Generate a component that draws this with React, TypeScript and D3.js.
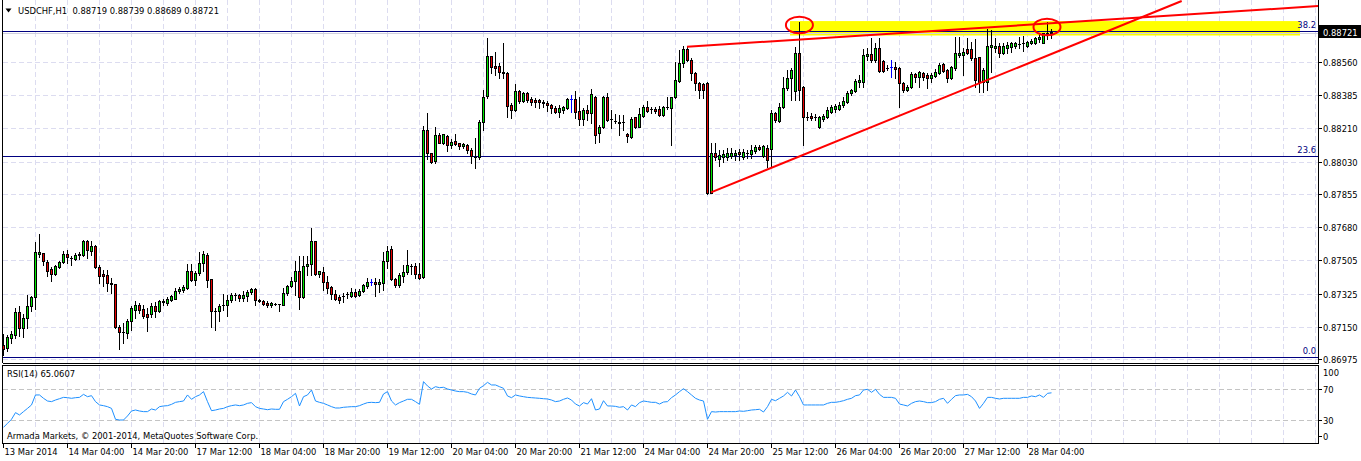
import React from "react";
import * as d3 from "d3";

// ---------------- data ----------------
const SYMBOL = "USDCHF,H1";
const TIME_LABELS = [
  "13 Mar 2014", "14 Mar 04:00", "14 Mar 20:00", "17 Mar 12:00", "18 Mar 04:00", "18 Mar 20:00",
  "19 Mar 12:00", "20 Mar 04:00", "20 Mar 20:00", "21 Mar 12:00", "24 Mar 04:00", "24 Mar 20:00",
  "25 Mar 12:00", "26 Mar 04:00", "26 Mar 20:00", "27 Mar 12:00", "28 Mar 04:00",
];
const PRICE_TICKS = [0.8856, 0.88385, 0.8821, 0.8803, 0.87855, 0.8768, 0.87505, 0.87325, 0.8715, 0.86975];
const RSI_TICKS = [100, 70, 30, 0];
const RSI_LEVELS = [70, 30];
const FIB_LABELS = ["38.2", "23.6", "0.0"];
const FIB_PRICES = [0.88727, 0.8806, 0.86987];
const BLUE_BARS = [92, 142, 222];

// [open, high, low, close] per H1 bar
const OHLC: number[][] = [
  [0.87051,0.87110,0.86998,0.87030],[0.87035,0.87105,0.87019,0.87094],[0.87089,0.87126,0.87062,0.87110],[0.87105,0.87249,0.87089,0.87227],[0.87227,0.87259,0.87099,0.87142],
  [0.87142,0.87217,0.87094,0.87195],[0.87195,0.87318,0.87142,0.87259],[0.87259,0.87313,0.87233,0.87308],[0.87308,0.87601,0.87243,0.87548],[0.87537,0.87644,0.87521,0.87548],
  [0.87542,0.87542,0.87478,0.87500],[0.87494,0.87505,0.87420,0.87446],[0.87457,0.87468,0.87393,0.87430],[0.87430,0.87478,0.87425,0.87473],[0.87468,0.87500,0.87462,0.87494],
  [0.87494,0.87553,0.87489,0.87537],[0.87537,0.87558,0.87489,0.87521],[0.87516,0.87526,0.87478,0.87516],[0.87510,0.87542,0.87505,0.87532],[0.87532,0.87548,0.87510,0.87537],
  [0.87532,0.87612,0.87526,0.87606],[0.87606,0.87612,0.87516,0.87558],[0.87553,0.87606,0.87532,0.87580],[0.87580,0.87585,0.87462,0.87468],[0.87468,0.87478,0.87382,0.87420],
  [0.87430,0.87452,0.87366,0.87420],[0.87425,0.87452,0.87340,0.87382],[0.87382,0.87409,0.87329,0.87377],[0.87377,0.87377,0.87142,0.87147],[0.87147,0.87158,0.87030,0.87121],
  [0.87121,0.87169,0.87062,0.87121],[0.87115,0.87190,0.87089,0.87179],[0.87179,0.87259,0.87131,0.87249],[0.87238,0.87286,0.87195,0.87265],[0.87265,0.87275,0.87222,0.87238],
  [0.87243,0.87265,0.87195,0.87206],[0.87217,0.87249,0.87126,0.87201],[0.87217,0.87275,0.87201,0.87259],[0.87259,0.87281,0.87201,0.87233],[0.87233,0.87291,0.87227,0.87286],
  [0.87281,0.87297,0.87265,0.87286],[0.87275,0.87308,0.87265,0.87297],[0.87291,0.87318,0.87286,0.87313],[0.87297,0.87356,0.87297,0.87340],[0.87340,0.87361,0.87329,0.87350],
  [0.87345,0.87372,0.87334,0.87361],[0.87356,0.87484,0.87350,0.87446],[0.87446,0.87484,0.87393,0.87398],[0.87398,0.87446,0.87372,0.87436],[0.87436,0.87548,0.87425,0.87489],
  [0.87489,0.87553,0.87446,0.87537],[0.87532,0.87542,0.87361,0.87398],[0.87404,0.87404,0.87147,0.87233],[0.87233,0.87249,0.87131,0.87233],[0.87233,0.87270,0.87179,0.87259],
  [0.87265,0.87324,0.87238,0.87265],[0.87265,0.87318,0.87206,0.87291],[0.87291,0.87329,0.87281,0.87318],[0.87318,0.87329,0.87291,0.87318],[0.87318,0.87324,0.87286,0.87302],
  [0.87302,0.87340,0.87286,0.87318],[0.87313,0.87345,0.87286,0.87334],[0.87334,0.87356,0.87324,0.87350],[0.87350,0.87356,0.87265,0.87291],[0.87291,0.87297,0.87281,0.87286],
  [0.87286,0.87291,0.87265,0.87270],[0.87275,0.87286,0.87254,0.87265],[0.87265,0.87281,0.87254,0.87275],[0.87270,0.87275,0.87265,0.87270],[0.87270,0.87270,0.87233,0.87270],
  [0.87265,0.87356,0.87265,0.87329],[0.87329,0.87372,0.87318,0.87366],[0.87366,0.87414,0.87361,0.87393],[0.87393,0.87500,0.87318,0.87446],[0.87446,0.87526,0.87243,0.87308],
  [0.87308,0.87526,0.87302,0.87473],[0.87473,0.87526,0.87425,0.87484],[0.87484,0.87676,0.87425,0.87606],[0.87606,0.87606,0.87425,0.87430],[0.87430,0.87446,0.87414,0.87446],
  [0.87441,0.87468,0.87345,0.87388],[0.87388,0.87420,0.87329,0.87356],[0.87361,0.87366,0.87297,0.87324],[0.87324,0.87345,0.87291,0.87297],[0.87308,0.87318,0.87275,0.87291],
  [0.87313,0.87329,0.87281,0.87313],[0.87324,0.87334,0.87302,0.87324],[0.87313,0.87356,0.87308,0.87334],[0.87334,0.87350,0.87308,0.87313],[0.87318,0.87350,0.87313,0.87340],
  [0.87340,0.87377,0.87334,0.87372],[0.87366,0.87409,0.87356,0.87388],[0.87388,0.87404,0.87372,0.87388],[0.87388,0.87409,0.87313,0.87377],[0.87377,0.87404,0.87334,0.87388],
  [0.87382,0.87548,0.87345,0.87500],[0.87500,0.87580,0.87462,0.87553],[0.87564,0.87580,0.87398,0.87404],[0.87404,0.87409,0.87361,0.87372],[0.87372,0.87436,0.87361,0.87425],
  [0.87420,0.87478,0.87388,0.87441],[0.87441,0.87558,0.87430,0.87478],[0.87473,0.87484,0.87430,0.87473],[0.87473,0.87489,0.87409,0.87430],[0.87430,0.87489,0.87404,0.87409],
  [0.87414,0.88220,0.87409,0.88199],[0.88199,0.88289,0.88044,0.88076],[0.88076,0.88076,0.88023,0.88028],[0.88033,0.88215,0.88023,0.88172],[0.88172,0.88183,0.88129,0.88129],
  [0.88129,0.88177,0.88124,0.88177],[0.88167,0.88172,0.88087,0.88119],[0.88119,0.88151,0.88103,0.88135],[0.88140,0.88177,0.88119,0.88124],[0.88129,0.88129,0.88097,0.88113],
  [0.88113,0.88129,0.88103,0.88124],[0.88119,0.88124,0.88076,0.88092],[0.88092,0.88103,0.88023,0.88060],[0.88055,0.88156,0.87996,0.88055],[0.88055,0.88252,0.88044,0.88241],
  [0.88241,0.88412,0.88199,0.88375],[0.88380,0.88690,0.88370,0.88594],[0.88594,0.88594,0.88503,0.88535],[0.88540,0.88615,0.88492,0.88530],[0.88540,0.88556,0.88476,0.88508],
  [0.88508,0.88663,0.88476,0.88503],[0.88503,0.88508,0.88268,0.88327],[0.88332,0.88343,0.88263,0.88305],[0.88305,0.88444,0.88300,0.88407],[0.88407,0.88412,0.88343,0.88354],
  [0.88354,0.88402,0.88348,0.88396],[0.88396,0.88402,0.88348,0.88359],[0.88364,0.88375,0.88332,0.88348],[0.88359,0.88370,0.88322,0.88348],[0.88359,0.88364,0.88316,0.88348],
  [0.88348,0.88359,0.88322,0.88343],[0.88343,0.88354,0.88300,0.88332],[0.88332,0.88338,0.88289,0.88316],[0.88316,0.88327,0.88289,0.88295],[0.88295,0.88332,0.88268,0.88316],
  [0.88305,0.88327,0.88289,0.88322],[0.88316,0.88370,0.88311,0.88364],[0.88364,0.88386,0.88295,0.88364],[0.88364,0.88407,0.88263,0.88295],[0.88300,0.88375,0.88225,0.88257],
  [0.88257,0.88316,0.88225,0.88305],[0.88305,0.88332,0.88252,0.88289],[0.88289,0.88418,0.88236,0.88391],[0.88375,0.88380,0.88129,0.88172],[0.88183,0.88225,0.88135,0.88215],
  [0.88215,0.88380,0.88209,0.88375],[0.88375,0.88396,0.88247,0.88252],[0.88257,0.88305,0.88209,0.88257],[0.88247,0.88284,0.88236,0.88247],[0.88241,0.88279,0.88172,0.88236],
  [0.88241,0.88279,0.88199,0.88241],[0.88177,0.88183,0.88135,0.88167],[0.88161,0.88268,0.88156,0.88257],[0.88268,0.88268,0.88209,0.88215],[0.88215,0.88316,0.88215,0.88284],
  [0.88273,0.88332,0.88268,0.88322],[0.88322,0.88354,0.88295,0.88300],[0.88311,0.88322,0.88289,0.88311],[0.88311,0.88322,0.88289,0.88300],[0.88311,0.88327,0.88273,0.88279],
  [0.88279,0.88327,0.88273,0.88322],[0.88322,0.88375,0.88311,0.88322],[0.88316,0.88375,0.88119,0.88375],[0.88375,0.88562,0.88370,0.88466],[0.88460,0.88626,0.88455,0.88556],
  [0.88556,0.88647,0.88535,0.88631],[0.88631,0.88647,0.88567,0.88572],[0.88572,0.88583,0.88466,0.88503],[0.88503,0.88508,0.88412,0.88450],[0.88450,0.88455,0.88370,0.88412],
  [0.88444,0.88450,0.88370,0.88412],[0.88450,0.88455,0.87857,0.87862],[0.87862,0.88129,0.87862,0.88076],[0.88076,0.88129,0.88039,0.88055],[0.88044,0.88092,0.88007,0.88065],
  [0.88055,0.88092,0.88028,0.88071],[0.88055,0.88103,0.88039,0.88076],[0.88060,0.88103,0.88049,0.88076],[0.88065,0.88092,0.88039,0.88076],[0.88081,0.88097,0.88039,0.88071],
  [0.88055,0.88097,0.88044,0.88081],[0.88076,0.88092,0.88049,0.88076],[0.88071,0.88119,0.88049,0.88092],[0.88087,0.88119,0.88076,0.88108],[0.88108,0.88119,0.88092,0.88097],
  [0.88060,0.88119,0.88055,0.88113],[0.88103,0.88119,0.88001,0.88039],[0.88097,0.88305,0.88007,0.88289],[0.88289,0.88295,0.88241,0.88252],[0.88247,0.88343,0.88241,0.88322],
  [0.88322,0.88482,0.88316,0.88423],[0.88423,0.88519,0.88412,0.88476],[0.88476,0.88530,0.88359,0.88519],[0.88407,0.88642,0.88359,0.88610],[0.88610,0.88775,0.88359,0.88412],
  [0.88428,0.88434,0.88119,0.88268],[0.88268,0.88295,0.88252,0.88268],[0.88273,0.88289,0.88252,0.88263],[0.88268,0.88284,0.88252,0.88268],[0.88215,0.88273,0.88209,0.88268],
  [0.88257,0.88284,0.88247,0.88273],[0.88268,0.88322,0.88263,0.88305],[0.88295,0.88332,0.88289,0.88322],[0.88311,0.88338,0.88295,0.88327],[0.88311,0.88348,0.88305,0.88332],
  [0.88332,0.88375,0.88322,0.88354],[0.88348,0.88407,0.88343,0.88396],[0.88396,0.88418,0.88386,0.88412],[0.88407,0.88471,0.88402,0.88460],[0.88455,0.88492,0.88428,0.88466],
  [0.88455,0.88631,0.88428,0.88599],[0.88594,0.88636,0.88572,0.88604],[0.88604,0.88690,0.88562,0.88572],[0.88572,0.88663,0.88562,0.88636],[0.88636,0.88690,0.88508,0.88514],
  [0.88567,0.88572,0.88508,0.88514],[0.88530,0.88546,0.88519,0.88530],[0.88535,0.88572,0.88482,0.88535],[0.88535,0.88562,0.88476,0.88524],[0.88530,0.88535,0.88322,0.88450],
  [0.88450,0.88455,0.88402,0.88412],[0.88412,0.88439,0.88407,0.88428],[0.88428,0.88508,0.88423,0.88498],[0.88498,0.88503,0.88455,0.88482],[0.88482,0.88514,0.88428,0.88508],
  [0.88503,0.88508,0.88466,0.88482],[0.88492,0.88503,0.88423,0.88476],[0.88476,0.88503,0.88455,0.88492],[0.88487,0.88524,0.88482,0.88508],[0.88503,0.88556,0.88498,0.88546],
  [0.88551,0.88556,0.88508,0.88514],[0.88519,0.88524,0.88455,0.88476],[0.88476,0.88540,0.88471,0.88535],[0.88530,0.88695,0.88519,0.88610],[0.88599,0.88695,0.88588,0.88610],
  [0.88599,0.88636,0.88492,0.88615],[0.88631,0.88690,0.88604,0.88610],[0.88631,0.88668,0.88572,0.88583],[0.88583,0.88684,0.88428,0.88466],[0.88588,0.88588,0.88402,0.88455],
  [0.88455,0.88530,0.88402,0.88519],[0.88455,0.88738,0.88412,0.88647],[0.88642,0.88732,0.88508,0.88652],[0.88636,0.88690,0.88615,0.88647],[0.88647,0.88663,0.88588,0.88610],
  [0.88610,0.88663,0.88604,0.88647],[0.88636,0.88668,0.88610,0.88652],[0.88642,0.88668,0.88615,0.88663],[0.88647,0.88668,0.88636,0.88663],[0.88658,0.88695,0.88636,0.88658],
  [0.88663,0.88700,0.88620,0.88663],[0.88647,0.88674,0.88642,0.88668],[0.88663,0.88684,0.88658,0.88674],[0.88663,0.88695,0.88658,0.88690],[0.88684,0.88706,0.88668,0.88695],
  [0.88663,0.88716,0.88663,0.88716],[0.88711,0.88775,0.88684,0.88716],[0.88719,0.88739,0.88689,0.88721],
];

const RSI = [
  20.5,25.7,30.9,39.5,36.5,40.8,45,49.4,62.3,62.3,
  58,54.5,53.7,55.8,57.5,59.2,58.8,58,58.8,59.2,
  63.1,60.1,61.4,53.7,49.4,48.5,47.2,45,30.9,30,
  30,35.2,41.6,42.9,41.6,40.8,40.8,44.2,42.9,47.2,
  48.1,48.5,50.2,52.8,53.7,54.5,62.3,56.7,60.1,62.3,
  66.6,53.7,42,42.9,44.2,45,47.2,48.5,49.4,48.5,
  49.4,51.5,52.4,47.2,45,44.2,43.3,44.2,43.8,43.8,
  53.7,56.7,60.1,64.4,48.1,60.1,62.3,68.7,54.5,52.8,
  51.5,49.4,47.2,45.5,45.5,46.4,46.8,47.2,47.2,48.5,
  50.6,52.4,52.8,52.4,52.8,63.6,66.6,54.5,49.4,52.4,
  54.5,56.7,56.7,53.7,50.2,79.5,73.9,70,73,71.7,
  72.2,70,68.7,67.4,66.6,66.6,65.7,63.6,62.3,70.9,
  74.3,78.6,75.2,75.2,73,70.9,61,58.8,62.3,61,
  60.1,59.2,58.8,58.4,58,57.5,57.1,55.8,53.7,54.5,
  56.7,58.4,55.8,50.6,48.1,52.4,50.6,57.5,42.9,44.2,
  54.9,48.1,48.1,47.6,46.4,47.2,42.9,49.4,47.2,52.4,
  54.5,53.7,52.8,52.8,50.6,53.2,53.7,58.8,62.3,66.6,
  70.4,66.6,62.3,58,55.8,54.5,30.9,40.8,40.3,40.8,
  40.8,40.8,40.8,40.8,41.6,41.2,42,42.9,43.3,43.8,
  40.3,47.2,56.7,54.9,58,61,65.7,61,68.7,60.1,
  49.4,49.4,49.4,49.4,49.4,49.4,51.5,52.8,52.8,53.7,
  54.9,56.7,58,61.4,62.3,68.7,69.6,65.7,69.6,63.1,
  59.2,59.2,59.2,58,50.6,49.4,48.1,51.5,53.7,54.5,
  53.7,52.4,52.4,53.7,56.7,58,51.5,56.7,61.4,62.3,
  62.3,63.1,60.1,54.5,45,51.5,59.2,59.2,58,57.1,
  58,58,58,58,58,59.2,59.2,61,60.1,62.3,
  59.2,64.4,65.0607,
];

// chart objects: trend lines (bar index, price), zone, circles
const TREND_T1 = [171, 177];
const TREND_P1 = [0.88643, 0.87866];
const TREND_T2 = [264, 264];
const TREND_P2 = [0.88771, 0.88621];
const ZONE_T = [196.75, 324.25];
const ZONE_P = [0.8878, 0.88703];
const CIRCLE_T = [199.1, 261];
const CIRCLE_P = [0.88759, 0.88748];

// ---------------- layout ----------------
const W = 1361, H = 461;
const LEFT = 2.5, RIGHT = 1318;
const MAIN_TOP = 0, MAIN_BOTTOM = 363;
const RSI_TOP = 365.5, RSI_BOTTOM = 443;
const FONT = "'DejaVu Sans', Verdana, sans-serif";
const FS = 8.4;
const GRID = "#dcdcf0";
const BULL = "#00e800";
const BEAR = "#e80000";

export default function App() {
  const n = OHLC.length;
  const x = d3.scaleLinear().domain([0, n - 1]).range([3, 3 + 4 * (n - 1)]);
  const y = d3.scaleLinear().domain([0.86975, 0.8856]).range([359.3, 62.3]);
  const ry = d3.scaleLinear().domain([0, 100]).range([443.25, 365.75]);

  const px = (v: number) => Math.round(v);
  const vGrid = d3.range(8, 330, 8).map((b) => px(x(b)) + 0.5).filter((v) => v < RIGHT);
  const timeTicks = TIME_LABELS.map((t, k) => ({ t, xx: px(x(k * 16)) + 0.5 }));

  const rsiLine = d3.line<number>().x((_, i) => x(i) + 0.5).y((v) => ry(v));

  const last = OHLC[n - 1];
  const fmt = d3.format(".5f");

  const rays = TREND_T1.map((t1, k) => {
    const x1 = x(t1), y1 = y(TREND_P1[k]);
    const x2 = x(TREND_T2[k]), y2 = y(TREND_P2[k]);
    const m = (y2 - y1) / (x2 - x1);
    let xe = RIGHT, ye = y1 + m * (xe - x1);
    if (ye < MAIN_TOP + 1) { ye = MAIN_TOP + 1; xe = x1 + (ye - y1) / m; }
    return { x1, y1, xe, ye };
  });

  return (
    <svg width={W} height={H} style={{ position: "absolute", left: 0, top: 0, background: "#fff" }}
      fontFamily={FONT} fontSize={FS}>
      <defs>
        <clipPath id="mainClip"><rect x={LEFT} y={MAIN_TOP} width={RIGHT - LEFT} height={MAIN_BOTTOM - MAIN_TOP} /></clipPath>
      </defs>
      <rect x={0} y={0} width={W} height={H} fill="#fff" />

      {/* grids */}
      <g shapeRendering="crispEdges">
        {PRICE_TICKS.map((p) => (
          <line key={p} x1={LEFT} x2={RIGHT} y1={px(y(p)) + 0.5} y2={px(y(p)) + 0.5} stroke={GRID} strokeDasharray="5,3" />
        ))}
        {vGrid.map((gx) => (
          <g key={gx}>
            <line x1={gx} x2={gx} y1={MAIN_TOP} y2={MAIN_BOTTOM} stroke={GRID} strokeDasharray="5,3" />
            <line x1={gx} x2={gx} y1={RSI_TOP} y2={RSI_BOTTOM} stroke={GRID} strokeDasharray="5,3" />
          </g>
        ))}
        {RSI_LEVELS.map((v) => (
          <line key={v} x1={LEFT} x2={RIGHT} y1={px(ry(v)) + 0.5} y2={px(ry(v)) + 0.5} stroke="#c4c4c4" strokeDasharray="5,3" />
        ))}
      </g>

      <g clipPath="url(#mainClip)">
        {/* yellow zone */}
        <rect x={x(ZONE_T[0])} y={y(ZONE_P[0])} width={x(ZONE_T[1]) - x(ZONE_T[0])} height={y(ZONE_P[1]) - y(ZONE_P[0])} fill="#ffff00" />
        {/* bid line */}
        <line x1={LEFT} x2={RIGHT} y1={px(y(last[3])) + 1.5} y2={px(y(last[3])) + 1.5} stroke="#d0d0e0" shapeRendering="crispEdges" />
        {/* fibo levels */}
        {FIB_PRICES.map((p, k) => (
          <g key={k}>
            <line x1={LEFT} x2={RIGHT} y1={px(y(p)) + 0.5} y2={px(y(p)) + 0.5} stroke="#000080" shapeRendering="crispEdges" />
            <text x={RIGHT - 2} y={px(y(p)) - 3} textAnchor="end" fill="#000080">{FIB_LABELS[k]}</text>
          </g>
        ))}

        {/* candles */}
        <g shapeRendering="crispEdges">
          {OHLC.map(([o, h, l, c], i) => {
            const cx = px(x(i));
            const yo = px(y(o)), yc = px(y(c)), yh = px(y(h)), yl = px(y(l));
            const blue = BLUE_BARS.includes(i);
            const col = blue ? "#0000ff" : "#000";
            const top = Math.min(yo, yc), bot = Math.max(yo, yc);
            const doji = bot - top < 1;
            return (
              <g key={i}>
                <line x1={cx + 0.5} x2={cx + 0.5} y1={yh} y2={yl + 1} stroke={col} />
                {doji ? (
                  <line x1={cx - 1} x2={cx + 2} y1={top + 0.5} y2={top + 0.5} stroke={col} />
                ) : (
                  <rect x={cx - 0.5} y={top + 0.5} width={2} height={bot - top} fill={c > o ? BULL : BEAR} stroke="#000" />
                )}
              </g>
            );
          })}
        </g>

        {/* trend lines */}
        {rays.map((r, k) => (
          <line key={k} x1={r.x1} y1={r.y1} x2={r.xe} y2={r.ye} stroke="#ff0000" strokeWidth={2} />
        ))}
        {/* circles */}
        {CIRCLE_T.map((t, k) => (
          <ellipse key={k} cx={x(t)} cy={y(CIRCLE_P[k])} rx={13.5} ry={8.3} fill="none" stroke="#ff0000" strokeWidth={2} />
        ))}
      </g>

      {/* header */}
      <path d="M5.5,8.5 L11.5,8.5 L8.5,12.5 Z" fill="#000" />
      <text x={18} y={14} xmlSpace="preserve">{`${SYMBOL}  ${last.map(fmt).join(" ")}`}</text>

      {/* RSI */}
      <path d={rsiLine(RSI) || ""} fill="none" stroke="#1e90ff" strokeWidth={1} />
      <text x={7} y={377}>{`RSI(14) ${RSI[RSI.length - 1].toFixed(4)}`}</text>
      <text x={7} y={439}>Armada Markets, © 2001-2014, MetaQuotes Software Corp.</text>

      {/* borders */}
      <g shapeRendering="crispEdges" stroke="#000" fill="none">
        <line x1={LEFT} x2={LEFT} y1={0} y2={MAIN_BOTTOM} />
        <line x1={RIGHT + 0.5} x2={RIGHT + 0.5} y1={0} y2={MAIN_BOTTOM} />
        <line x1={LEFT} x2={RIGHT + 0.5} y1={MAIN_BOTTOM + 0.5} y2={MAIN_BOTTOM + 0.5} />
        <rect x={LEFT} y={RSI_TOP} width={RIGHT + 0.5 - LEFT} height={RSI_BOTTOM - RSI_TOP} />
      </g>

      {/* price axis */}
      <g shapeRendering="crispEdges">
        {PRICE_TICKS.map((p) => (
          <g key={p}>
            <line x1={RIGHT} x2={RIGHT + 4} y1={px(y(p)) + 0.5} y2={px(y(p)) + 0.5} stroke="#000" />
            <text x={RIGHT + 5} y={px(y(p)) + 3.5} fill="#000">{d3.format(".5f")(p)}</text>
          </g>
        ))}
      </g>
      <rect x={RIGHT + 1} y={px(y(last[3])) - 7} width={W - RIGHT - 1} height={13} fill="#000" />
      <text x={RIGHT + 5} y={px(y(last[3])) + 3.5} fill="#fff">{fmt(last[3])}</text>

      {/* rsi axis */}
      {RSI_TICKS.map((v) => {
        const yy = Math.min(Math.max(ry(v), RSI_TOP + 7), RSI_BOTTOM - 7);
        return (
          <g key={v}>
            {v !== 100 && <line x1={RIGHT} x2={RIGHT + 4} y1={px(yy) + 0.5} y2={px(yy) + 0.5} stroke="#000" shapeRendering="crispEdges" />}
            <text x={RIGHT + 5} y={yy + 3.5}>{v}</text>
          </g>
        );
      })}

      {/* time axis */}
      {timeTicks.map(({ t, xx }) => (
        <g key={t}>
          <line x1={xx} x2={xx} y1={RSI_BOTTOM} y2={RSI_BOTTOM + 5} stroke="#000" shapeRendering="crispEdges" />
          <text x={xx + 1} y={455}>{t}</text>
        </g>
      ))}
    </svg>
  );
}
